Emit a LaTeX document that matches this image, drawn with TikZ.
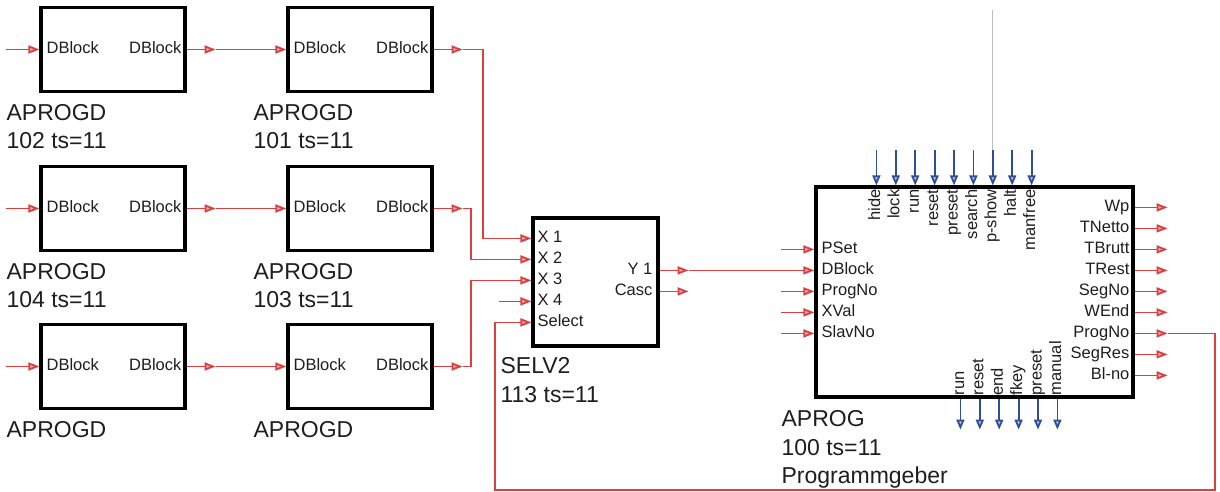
\documentclass[tikz,border=0pt]{standalone}
\usepackage{fontspec}
\setmainfont{Liberation Sans}
\usetikzlibrary{arrows.meta,positioning,calc}
\definecolor{sigred}{RGB}{218,64,64}
\definecolor{ctlblue}{RGB}{48,78,150}
\definecolor{txtgray}{RGB}{30,30,30}
\definecolor{pingray}{RGB}{185,190,202}
\begin{document}
\begin{tikzpicture}[x=1pt,y=-1pt,
    blk/.style={draw,line width=3.2pt,inner sep=0pt,minimum width=144pt,minimum height=84pt},
    sig/.style={draw=sigred,line width=1.8pt,-{Triangle[length=11pt,width=8pt,fill=sigred!45]}},
    ctl/.style={draw=ctlblue,line width=1.8pt,-{Triangle[length=10pt,width=8pt,fill=ctlblue!35]}},
    port/.style={text=txtgray,inner sep=0pt,text height=0.72em,text depth=0pt,font=\fontsize{16.5}{18}\selectfont},
    tag/.style={text=txtgray,inner sep=0pt,align=left,font=\fontsize{23}{28.5}\selectfont}
  ]
  \useasboundingbox (0,0) rectangle (1220,492);

  % data blocks
  \node[blk] (d102) at (113,49.5) {};
  \node[blk] (d101) at (360,49.5) {};
  \node[blk] (d104) at (113,208.5) {};
  \node[blk] (d103) at (360,208.5) {};
  \node[blk] (d3a) at (113,366.5) {};
  \node[blk] (d3b) at (360,366.5) {};
  \foreach \b in {d102,d101,d104,d103,d3a,d3b} {
    \node[port,anchor=west] (\b-i) at ([xshift=7pt]\b.west) {DBlock};
    \node[port,anchor=east] (\b-o) at ([xshift=-5pt]\b.east) {DBlock};
  }
  \node[tag,below right=11pt and -33pt of d102.south west] (t102) {APROGD\\102 ts=11};
  \node[tag,below right=11pt and -33pt of d101.south west] (t101) {APROGD\\101 ts=11};
  \node[tag,below right=11pt and -33pt of d104.south west] (t104) {APROGD\\104 ts=11};
  \node[tag,below right=11pt and -33pt of d103.south west] (t103) {APROGD\\103 ts=11};
  \node[tag,below right=11pt and -33pt of d3a.south west] (t3a) {APROGD};
  \node[tag,below right=11pt and -33pt of d3b.south west] (t3b) {APROGD};

  % selector
  \node[blk,minimum width=125pt,minimum height=128pt] (sel) at (595.5,282) {};
  \foreach \lbl [count=\i from 0] in {X 1,X 2,X 3,X 4,Select} {
    \coordinate (sx\i) at ($(sel.north west)+(0,22+21*\i)$);
    \node[port,anchor=west] (lsx\i) at ([xshift=6pt]sx\i) {\lbl};
  }
  \foreach \lbl [count=\i from 0] in {Y 1,Casc} {
    \coordinate (sy\i) at ($(sel.north east)+(0,54+21*\i)$);
    \node[port,anchor=east] (lsy\i) at ([xshift=-7pt]sy\i) {\lbl};
  }
  \node[tag,below right=10pt and -31pt of sel.south west] (tsel) {SELV2\\113 ts=11};

  % program generator
  \node[blk,minimum width=317pt,minimum height=210pt] (ap) at (974.5,292) {};
  \foreach \lbl [count=\i from 0] in {hide,lock,run,reset,preset,search,p-show,halt,manfree} {
    \coordinate (top\i) at ($(ap.north west)+(62+19.4*\i,0)$);
    \draw[ctl] ([yshift=35pt]top\i) -- (top\i);
    \node[port,rotate=90,anchor=east] (lt\i) at ([yshift=-4pt]top\i) {\lbl};
  }
  \foreach \lbl [count=\i from 0] in {run,reset,end,fkey,preset,manual} {
    \coordinate (bot\i) at ($(ap.south west)+(146+19.4*\i,0)$);
    \draw[ctl] (bot\i) -- ++(0,31);
    \node[port,rotate=90,anchor=west] (lb\i) at ([yshift=3pt]bot\i) {\lbl};
  }
  \foreach \lbl [count=\i from 0] in {PSet,DBlock,ProgNo,XVal,SlavNo} {
    \coordinate (l\i) at ($(ap.north west)+(0,64+21*\i)$);
    \node[port,anchor=west] (ll\i) at ([xshift=7pt]l\i) {\lbl};
    \ifnum\i=1\else
      \draw[sig] ([xshift=-33pt]l\i) -- (l\i);
    \fi
  }
  \foreach \lbl [count=\i from 0] in {Wp,TNetto,TBrutt,TRest,SegNo,WEnd,ProgNo,SegRes,Bl-no} {
    \coordinate (r\i) at ($(ap.north east)+(0,22+21*\i)$);
    \node[port,anchor=east] (lr\i) at ([xshift=-5pt]r\i) {\lbl};
    \draw[sig] (r\i) -- ++(33,0) coordinate (ro\i);
  }
  \node[tag,below right=12pt and -33pt of ap.south west] (tap) {APROG\\100 ts=11\\Programmgeber};

  % connections
  \foreach \b in {d102,d104,d3a}
    \draw[sig] ([xshift=-33pt]\b.west) -- (\b.west);
  \draw[sig] (d102.east) -- ++(29,0) coordinate (o102);
  \draw[sig] (o102) -- (d101.west);
  \draw[sig] (d104.east) -- ++(29,0) coordinate (o104);
  \draw[sig] (o104) -- (d103.west);
  \draw[sig] (d3a.east) -- ++(29,0) coordinate (o3a);
  \draw[sig] (o3a) -- (d3b.west);
  \draw[sig] (d101.east) -- ++(29,0) coordinate (o101);
  \draw[sig] (o101) -- ++(20,0) |- (sx0);
  \draw[sig] (d103.east) -- ++(29,0) coordinate (o103);
  \draw[sig] (o103) -- ++(8,0) |- (sx1);
  \draw[sig] (d3b.east) -- ++(29,0) coordinate (o3b);
  \draw[sig] (o3b) -- ++(8,0) |- (sx2);
  \draw[sig] ([xshift=-32pt]sx3) -- (sx3);
  \draw[sig] (sy0) -- ++(29,0) coordinate (yo);
  \draw[sig] (yo) -- (l1);
  \draw[sig] (sy1) -- ++(29,0);
  \coordinate (fbr) at (1215,490);
  \coordinate (fbl) at (495,490);
  \draw[sig] (ro6) -| (fbr) -- (fbl) |- (sx4);
  \coordinate (pin) at ($(top6)+(0,-175)$);
  \draw[pingray,line width=1.2pt] (pin) -- ([yshift=35pt]top6);
\end{tikzpicture}
\end{document}
